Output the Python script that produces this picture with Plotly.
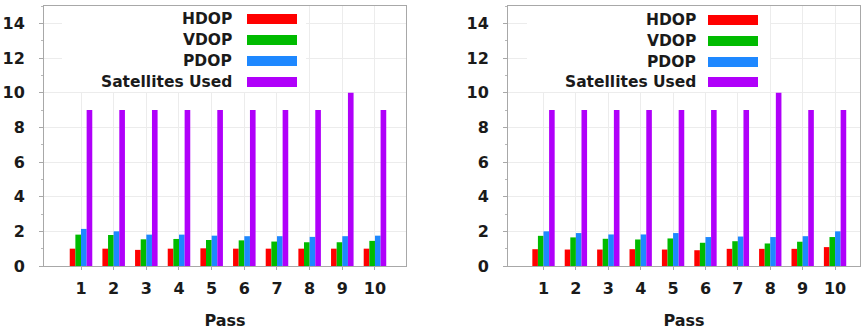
import plotly.graph_objects as go

passes = [1, 2, 3, 4, 5, 6, 7, 8, 9, 10]
series_names = ["HDOP", "VDOP", "PDOP", "Satellites Used"]
series_colors = ["#ff0000", "#00bb00", "#1e88ff", "#b000fa"]

left_hdop = [1.0, 1.0, 0.93, 1.0, 1.02, 1.0, 1.0, 1.0, 1.0, 1.0]
left_vdop = [1.81, 1.79, 1.54, 1.56, 1.5, 1.48, 1.41, 1.37, 1.37, 1.45]
left_pdop = [2.14, 2.0, 1.81, 1.81, 1.75, 1.72, 1.72, 1.68, 1.72, 1.75]
left_sats = [9, 9, 9, 9, 9, 9, 9, 9, 10, 9]

right_hdop = [0.97, 0.95, 0.95, 0.97, 0.95, 0.91, 0.99, 0.99, 0.99, 1.09]
right_vdop = [1.74, 1.65, 1.57, 1.53, 1.59, 1.34, 1.43, 1.3, 1.4, 1.67]
right_pdop = [2.0, 1.9, 1.82, 1.82, 1.9, 1.67, 1.7, 1.67, 1.72, 2.0]
right_sats = [9, 9, 9, 9, 9, 9, 9, 10, 9, 9]

y_ticks = [0, 2, 4, 6, 8, 10, 12, 14]

W, H = 866, 332
FONT = "DejaVu Sans"
TXT = "#1a1a1a"

fig = go.Figure()

panels = [
    dict(data=[left_hdop, left_vdop, left_pdop, left_sats], xa="x", ya="y",
         px=(44, 406), xrange=[-0.133, 10.95], text_right=233, sw=(247, 297),
         rows=[19, 40, 61, 82], box=(62, 306)),
    dict(data=[right_hdop, right_vdop, right_pdop, right_sats], xa="x2", ya="y2",
         px=(508, 860), xrange=[-0.096, 10.77], text_right=697, sw=(708, 758),
         rows=[20, 41, 62, 82], box=(527, 770)),
]

for pi, p in enumerate(panels):
    for name, color, vals in zip(series_names, series_colors, p["data"]):
        fig.add_trace(go.Bar(x=passes, y=vals, name=name, marker_color=color,
                             marker_line_width=0, xaxis=p["xa"], yaxis=p["ya"],
                             showlegend=False, hoverinfo="skip"))

top_px, bot_px = 6, 266
ydom = [1 - bot_px / H, 1 - top_px / H]
YMAX = 15

axis_common = dict(showline=True, linecolor="#a8a8a8", linewidth=1, mirror=True,
                   gridcolor="#ececec", gridwidth=1, zeroline=False, automargin=False,
                   tickfont=dict(family=FONT, size=16, color=TXT, weight="bold"),
                   ticks="outside", tickcolor="#a8a8a8", ticklen=3)

for i, p in enumerate(panels):
    sfx = "" if i == 0 else str(i + 1)
    xa = dict(axis_common, domain=[p["px"][0] / W, p["px"][1] / W], range=p["xrange"],
              tickvals=passes, ticktext=[str(v) for v in passes], anchor="y" + sfx,
              ticklabelstandoff=5,
              title=dict(text="Pass", font=dict(family=FONT, size=16, color=TXT, weight="bold"),
                         standoff=17))
    ya = dict(axis_common, domain=ydom, range=[0, YMAX], tickvals=y_ticks, anchor="x" + sfx,
              ticklen=4, ticklabelstandoff=11,
              minor=dict(dtick=1, ticklen=2, tickcolor="#b8b8b8", showgrid=False))
    fig.layout["xaxis" + sfx] = xa
    fig.layout["yaxis" + sfx] = ya

shapes = []
annotations = []
for i, p in enumerate(panels):
    sfx = "" if i == 0 else str(i + 1)
    x0, x1 = p["px"]
    r0, r1 = p["xrange"]
    bx0 = r0 + (p["box"][0] - x0) / (x1 - x0) * (r1 - r0)
    bx1 = r0 + (p["box"][1] - x0) / (x1 - x0) * (r1 - r0)
    by0 = (bot_px - 92) / (bot_px - top_px) * YMAX
    # legend white background (hides gridlines behind the key)
    shapes.append(dict(type="rect", xref="x" + sfx, yref="y" + sfx,
                       x0=bx0, x1=bx1, y0=by0, y1=YMAX,
                       fillcolor="white", line_width=0, layer="between"))
    for name, color, ry in zip(series_names, series_colors, p["rows"]):
        annotations.append(dict(text=name, xref="paper", yref="paper",
                                x=p["text_right"] / W, y=1 - ry / H, xanchor="right",
                                yanchor="middle", showarrow=False, borderpad=0,
                                font=dict(family=FONT, size=15.5, color=TXT, weight="bold")))
        shapes.append(dict(type="rect", xref="paper", yref="paper",
                           x0=p["sw"][0] / W, x1=p["sw"][1] / W,
                           y0=1 - (ry + 5) / H, y1=1 - (ry - 5) / H,
                           fillcolor=color, line_width=0, layer="above"))

fig.update_layout(width=W, height=H, margin=dict(l=0, r=0, t=0, b=0, autoexpand=False),
                  paper_bgcolor="white", plot_bgcolor="white",
                  barmode="group", bargap=0.31, bargroupgap=0,
                  shapes=shapes, annotations=annotations, showlegend=False,
                  hovermode=False)

css = ("margin:0;padding:0;overflow:hidden;width:866px;height:332px;")
fig.write_html("out.html", config={"displayModeBar": False, "staticPlot": True},
               post_script=("document.documentElement.style.cssText='" + css + "';"
                            "document.body.style.cssText='" + css + "';"))
